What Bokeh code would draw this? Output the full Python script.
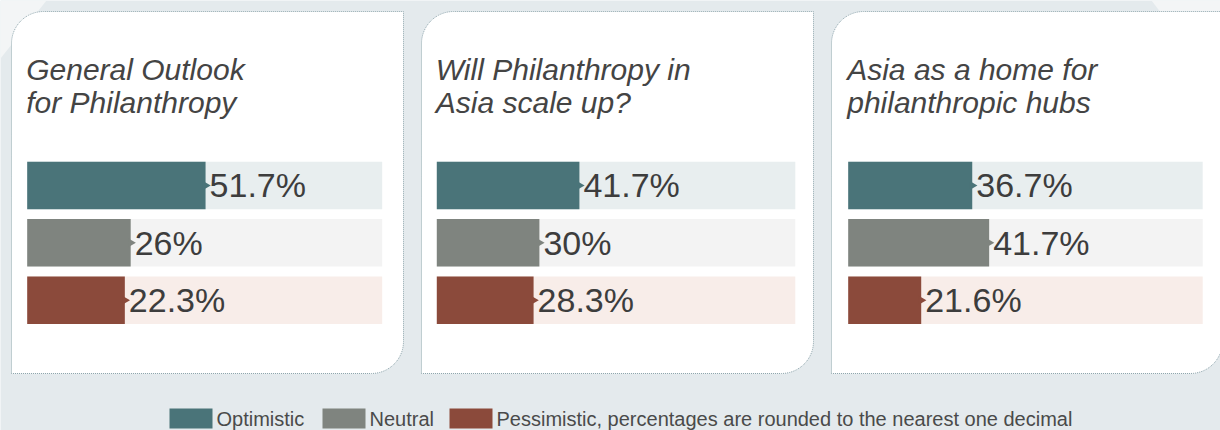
import numpy as np
from bokeh.plotting import figure
from bokeh.models import Range1d
from bokeh.embed import file_html
from bokeh.resources import INLINE
from bokeh.core.properties import value

# ---------------- data ----------------
categories = ["Optimistic", "Neutral", "Pessimistic"]
card_titles = [
    ["General Outlook", "for Philanthropy"],
    ["Will Philanthropy in", "Asia scale up?"],
    ["Asia as a home for", "philanthropic hubs"],
]
# bar lengths as drawn in the picture (percent)
bars_general = [51.7, 30.0, 28.3]
bars_scale_up = [41.7, 30.0, 28.3]
bars_hubs = [36.7, 41.7, 21.6]
# printed labels
labels_general = ["51.7%", "26%", "22.3%"]
labels_scale_up = ["41.7%", "30%", "28.3%"]
labels_hubs = ["36.7%", "41.7%", "21.6%"]
legend_labels = ["Optimistic", "Neutral",
                 "Pessimistic, percentages are rounded to the nearest one decimal"]

# ---------------- styles / layout ----------------
W, H = 1220, 430
bar_colors = ["#4a7479", "#7f847f", "#8b4a3b"]
track_colors = ["#e8eeef", "#f3f3f3", "#f8ede9"]
bg_color = "#e4eaed"
card_x = [(11, 403), (421, 813), (831, 1222)]
card_y = (11, 373)
radius = 32
track_left = [26.7, 436.3, 847.7]
px_per_pct = [3.45, 3.42, 3.38]
track_px = [355, 358.5, 354.5]
row_top, row_step = 184.9, 57.45
bar_h = 47.5 / row_step

p = figure(width=W, height=H, x_range=Range1d(0, W), y_range=Range1d(H, 0),
           min_border=0, toolbar_location=None, output_backend="svg",
           x_axis_type=None, y_axis_type=None, outline_line_color=None,
           background_fill_color=bg_color, border_fill_color=bg_color)
p.xgrid.visible = False
p.ygrid.visible = False

# lighter background shapes
p.patch([0, 46, 0], [0, 0, 58], fill_color="#f3f5f6", line_color=None)
p.patch([1151, W, W], [0, 0, 90], fill_color="#f3f5f6", line_color=None)

def card_shape(x0, x1, y0, y1, r, n=20):
    xs, ys = [x0], [y1]
    t = np.linspace(np.pi, 1.5 * np.pi, n)
    xs += list(x0 + r + r * np.cos(t)); ys += list(y0 + r + r * np.sin(t))
    xs += [x1]; ys += [y0]
    t = np.linspace(0, 0.5 * np.pi, n)
    xs += list(x1 - r + r * np.cos(t)); ys += list(y1 - r + r * np.sin(t))
    xs += [x0]; ys += [y1]
    return xs, ys

for (x0, x1) in card_x:
    xs, ys = card_shape(x0, x1, card_y[0], card_y[1], radius)
    p.patch(xs, ys, fill_color="white", line_color="#8fa6ad",
            line_dash="1 1", line_width=1)

p.extra_y_ranges = {"rows": Range1d(start=-row_top / row_step + H / row_step,
                                    end=-row_top / row_step)}

all_bars = [bars_general, bars_scale_up, bars_hubs]
all_labels = [labels_general, labels_scale_up, labels_hubs]
rows = list(range(len(categories)))

for k in range(3):
    name = f"card{k}"
    s = px_per_pct[k]
    p.extra_x_ranges[name] = Range1d(start=-track_left[k] / s,
                                     end=(W - track_left[k]) / s)
    track_end = track_px[k] / s
    p.hbar(y=rows, left=0, right=[track_end] * 3, height=bar_h,
           fill_color=track_colors, line_color=None,
           x_range_name=name, y_range_name="rows")
    p.hbar(y=rows, left=0, right=all_bars[k], height=bar_h,
           fill_color=bar_colors, line_color=None,
           x_range_name=name, y_range_name="rows")
    p.scatter(x=all_bars[k], y=rows, marker="triangle", size=9,
              angle=-np.pi / 2, fill_color=bar_colors, line_color=None,
              x_range_name=name, y_range_name="rows")
    p.text(x=all_bars[k], y=rows, text=all_labels[k], x_offset=4,
           text_baseline="middle", text_align="left",
           text_font=value("Liberation Sans"), text_font_size="34px",
           text_color="#3d3d3d", x_range_name=name, y_range_name="rows")
    # titles
    for j, line in enumerate(card_titles[k]):
        p.text(x=[track_left[k] - 1], y=[69 + 33 * j], text=[line],
               text_baseline="middle", text_align="left",
               text_font=value("Liberation Sans"), text_font_style="italic",
               text_font_size="30px", text_color="#444444")

# legend
leg_sq_x = [169, 322, 449]
leg_sq_w = 43
for i, lab in enumerate(legend_labels):
    p.rect(x=[leg_sq_x[i] + leg_sq_w / 2], y=[418], width=leg_sq_w, height=20,
           fill_color=bar_colors[i], line_color=None)
    p.text(x=[leg_sq_x[i] + leg_sq_w + 4], y=[418], text=[lab],
           text_baseline="middle", text_align="left",
           text_font=value("Liberation Sans"), text_font_size="20px",
           text_color="#4a4a4a")

open("out.html", "w").write(file_html(p, INLINE))
